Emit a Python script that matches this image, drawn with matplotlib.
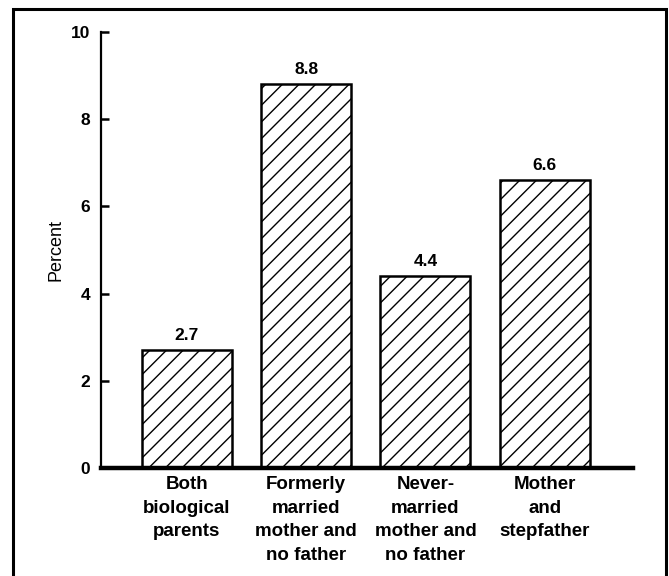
import matplotlib
matplotlib.use('Agg')
import matplotlib.pyplot as plt
from matplotlib.patches import Rectangle

# data
categories = ['Both\nbiological\nparents',
              'Formerly\nmarried\nmother and\nno father',
              'Never-\nmarried\nmother and\nno father',
              'Mother\nand\nstepfather']
percent = [2.7, 8.8, 4.4, 6.6]
yticks = [0, 2, 4, 6, 8, 10]

plt.rcParams['font.family'] = ['Liberation Sans', 'DejaVu Sans']
plt.rcParams['hatch.linewidth'] = 1.0

fig = plt.figure(figsize=(6.69, 5.76), dpi=100)
ax = fig.add_axes([0.151, 0.1875, 0.795, 0.757])

x = range(len(categories))
bars = ax.bar(x, percent, width=0.756, color='white', edgecolor='black',
              linewidth=1.8, hatch='//', zorder=2)

for b, v in zip(bars, percent):
    ax.annotate(f'{v:.1f}', (b.get_x() + b.get_width() / 2, v),
                xytext=(0, 5), textcoords='offset points',
                ha='center', va='bottom', fontsize=12.5, fontweight='bold')

ax.set_xlim(-0.72, 3.74)
ax.set_ylim(0, 10)
ax.set_yticks(yticks)
ax.set_yticklabels([str(t) for t in yticks], fontsize=12.5, fontweight='bold')
ax.set_xticks(list(x))
ax.set_xticklabels(categories, fontsize=13.5, fontweight='bold', linespacing=1.5)
ax.tick_params(axis='x', length=0, pad=6)
ax.tick_params(axis='y', direction='in', length=6, width=1.8, pad=8)
ax.set_ylabel('Percent', fontsize=13, labelpad=4)

for s in ['top', 'right']:
    ax.spines[s].set_visible(False)
ax.spines['left'].set_linewidth(1.6)
ax.spines['bottom'].set_linewidth(3.2)
ax.spines['bottom'].set_zorder(3)

# frame around the whole figure
fig.patches.append(Rectangle((13 / 669, -0.01), (666 - 13) / 669, 0.994,
                             transform=fig.transFigure, fill=False,
                             edgecolor='black', linewidth=2.2))

fig.savefig('out.png', dpi=100)
